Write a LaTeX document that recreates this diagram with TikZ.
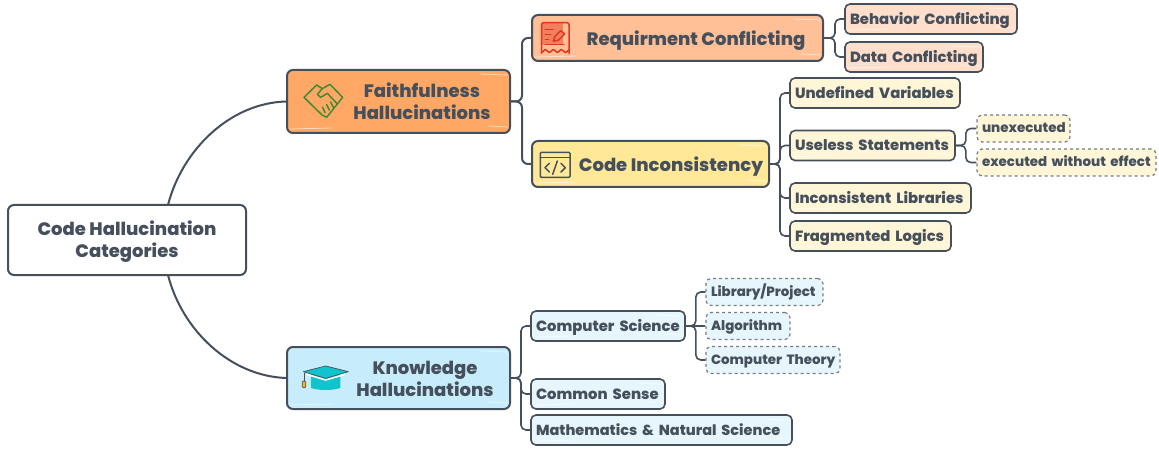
\documentclass[tikz,border=0pt]{standalone}
\usepackage{fontspec}
\setmainfont{Poppins}[BoldFont={Poppins ExtraBold}]
\definecolor{ink}{HTML}{46505C}
\definecolor{faithfill}{HTML}{FFA865}
\definecolor{reqfill}{HTML}{FFBF97}
\definecolor{reqleaf}{HTML}{FFDFCB}
\definecolor{codefill}{HTML}{FFE998}
\definecolor{codeleaf}{HTML}{FFF6D7}
\definecolor{knowfill}{HTML}{C7ECFC}
\definecolor{knowleaf}{HTML}{E7F6FD}
\definecolor{shake}{HTML}{3F8A33}
\definecolor{docred}{HTML}{E2351B}
\definecolor{capteal}{HTML}{10C3CC}
\tikzset{
  streaks/.style={path picture={
    \draw[white,opacity=.55,line width=.8pt]
      ([xshift=-30pt,yshift=-4pt]path picture bounding box.north east) -- ([xshift=-2pt,yshift=-5pt]path picture bounding box.north east)
      ([xshift=2pt,yshift=4pt]path picture bounding box.south west) -- ([xshift=45pt,yshift=5pt]path picture bounding box.south west)
      ([xshift=-22pt,yshift=7pt]path picture bounding box.south east) -- ([xshift=-2pt,yshift=6pt]path picture bounding box.south east);
  }},
  box/.style={draw=ink,line width=2pt,rounded corners=6pt,inner sep=0pt,text=ink,streaks},
  oneline/.style={align=left,inner xsep=5pt,minimum width=#1,text width=#1-10pt,
    execute at begin node=\hbox\bgroup,execute at end node=\egroup},
  leaf/.style={box,oneline=#1,line width=1.6pt,rounded corners=5pt,
    minimum height=30pt,text height=13pt,text depth=2pt,
    font=\bfseries\fontsize{14.8}{18}\selectfont},
  subleaf/.style={box,oneline=#1,dashed,draw=ink!75,line width=1.2pt,rounded corners=5pt,
    minimum height=27pt,text height=11pt,text depth=2pt,
    font=\bfseries\fontsize{13.4}{16}\selectfont},
  boxlabel/.style={text=ink,inner sep=0pt,align=center,font=\bfseries\fontsize{18}{22}\selectfont},
  branch/.style={draw=ink,line width=2pt,rounded corners=6pt},
  twig/.style={draw=ink,line width=1.6pt,rounded corners=5pt},
  icon/.style={line width=1.5pt,line join=round,line cap=round},
}
\begin{document}
\begin{tikzpicture}[x=1pt,y=-1pt]
\useasboundingbox (0,0) rectangle (1159,449);

% root and its two curves
\node[box,fill=white,minimum width=238pt,minimum height=70pt] (root) at (127,240) {};
\node[boxlabel] (rootlabel) at (127,242) {Code Hallucination\\Categories};
\coordinate (rootup) at (168,205);
\coordinate (rootdown) at (168,275);

% main topics
\node[box,fill=faithfill,minimum width=223pt,minimum height=63pt] (faith) at (398.5,101.5) {};
\node[boxlabel] (faithlabel) at (422,101.5) {Faithfulness\\Hallucinations};
\node[box,fill=knowfill,minimum width=223pt,minimum height=62pt] (know) at (398.5,378) {};
\node[boxlabel] (knowlabel) at (425,378.5) {Knowledge\\Hallucinations};

% second level
\node[box,fill=reqfill,minimum width=291pt,minimum height=46pt] (req) at (677.5,38) {};
\node[boxlabel] (reqlabel) at (696,41) {Requirment Conflicting};
\node[box,fill=codefill,minimum width=237pt,minimum height=46pt] (code) at (650.5,164) {};
\node[boxlabel] (codelabel) at (671,167) {Code Inconsistency};

% leaves
\node[leaf=172pt,fill=reqleaf] (behavior) at (931,19) {Behavior Conflicting};
\node[leaf=138pt,fill=reqleaf] (data) at (914,57) {Data Conflicting};

\node[leaf=170pt,fill=codeleaf] (undefined) at (875,93) {Undefined Variables};
\node[leaf=165pt,fill=codeleaf] (useless) at (872.5,145.5) {Useless Statements};
\node[leaf=181pt,fill=codeleaf] (libs) at (880.5,198) {Inconsistent Libraries};
\node[leaf=161pt,fill=codeleaf] (logics) at (870.5,236) {Fragmented Logics};
\node[subleaf=93pt,fill=codeleaf] (unexec) at (1023.5,128.5) {unexecuted};
\node[subleaf=179pt,fill=codeleaf] (noeffect) at (1066.5,162.5) {executed without effect};

\node[leaf=154pt,fill=knowleaf] (cs) at (608,326) {Computer Science};
\node[leaf=134pt,fill=knowleaf] (sense) at (598,394) {Common Sense};
\node[leaf=261pt,fill=knowleaf,font=\bfseries\fontsize{14.5}{18}\selectfont] (math) at (661.5,430) {Mathematics \& Natural Science};
\node[subleaf=117pt,fill=knowleaf] (library) at (764.5,292) {Library/Project};
\node[subleaf=84pt,fill=knowleaf] (algo) at (748,326) {Algorithm};
\node[subleaf=134pt,fill=knowleaf] (theory) at (773,360) {Computer Theory};

% connectors
\draw[branch] (rootup) .. controls (182,150) and (230,103) .. (faith.west);
\draw[branch] (rootdown) .. controls (182,330) and (230,376) .. (know.west);
\foreach \to in {req,code}
  \draw[branch] (faith.east) -- ++(11,0) |- (\to.west);
\foreach \to in {behavior,data}
  \draw[twig] (req.east) -- ++(11,0) |- (\to.west);
\foreach \to in {undefined,useless,libs,logics}
  \draw[twig] (code.east) -- ++(10,0) |- (\to.west);
\foreach \to in {unexec,noeffect}
  \draw[twig] (useless.east) -- ++(10,0) |- (\to.west);
\foreach \to in {cs,sense,math}
  \draw[twig] (know.east) -- ++(10,0) |- (\to.west);
\foreach \to in {library,theory}
  \draw[twig] (cs.east) -- ++(10,0) |- (\to.west);
\draw[twig] (cs.east) -- (algo.west);

% handshake
\begin{scope}[shift={(280,0)},scale=1/3,icon,draw=shake]
  \draw (72,292) -- (110,255) -- (127,266) -- (150,253) -- (188,292) -- (140,352) -- (126,345) -- cycle;
  \draw (127,266) -- (112,283) -- (122,292) -- (142,280) -- (172,312);
  \draw (135,338) -- (128,322) (148,330) -- (140,314) (160,322) -- (152,306);
\end{scope}

% document with pen
\begin{scope}[shift={(280,0)},scale=1/3,icon,draw=docred]
  \fill[docred,opacity=.45] (785,68) -- (848,68) -- (848,135) -- (785,135) -- cycle;
  \draw[rounded corners=2pt] (785,160) -- (785,68) -- (867,68) -- (867,160);
  \draw (785,158) -- (796,148) -- (808,158) -- (820,148) -- (832,158) -- (844,148) -- (856,158) -- (867,150);
  \draw (796,89) -- (820,89) (796,103) -- (812,103) (796,118) -- (806,118) (796,134) -- (852,134);
  \draw (820,124) -- (824,110) -- (842,92) -- (854,102) -- (836,120) -- cycle;
\end{scope}

% code window
\begin{scope}[shift={(280,0)},scale=1/3,icon,draw=ink]
  \draw[rounded corners=1pt] (781,457) rectangle (870,532);
  \draw (781,473) -- (870,473);
  \draw (808,490) -- (795,503) -- (808,516) (843,490) -- (856,503) -- (843,516) (832,483) -- (818,523);
\end{scope}

% graduation cap
\begin{scope}[shift={(280,270)},scale=1/3,line join=round]
  \fill[capteal] (93,312) -- (93,354) .. controls (120,362) and (155,362) .. (181,354) -- (181,312) -- cycle;
  \draw[white,line width=1.6pt] (80,313) -- (137,330) -- (195,313);
  \filldraw[draw=ink,line width=.7pt,fill=capteal] (70,305) -- (137,288) -- (205,305) -- (137,325) -- cycle;
  \draw[ink,line width=.7pt] (72,308) -- (72,333);
  \filldraw[draw=ink,line width=.7pt,fill=orange!60!yellow,rounded corners=1pt] (67,333) rectangle (77,353);
\end{scope}
\end{tikzpicture}
\end{document}
